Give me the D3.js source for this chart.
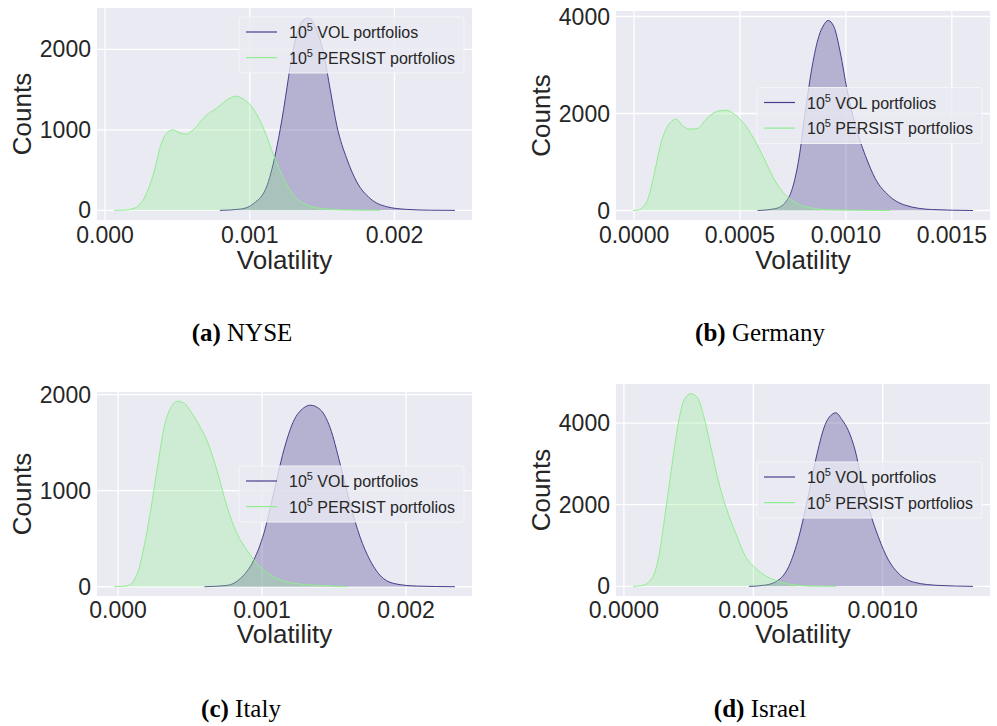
<!DOCTYPE html>
<html>
<head>
<meta charset="utf-8">
<script src="https://cdn.jsdelivr.net/npm/d3@7"></script>
<style>
  html, body { margin: 0; padding: 0; background: #ffffff; }
  svg { display: block; }
</style>
</head>
<body>
<svg id="fig" width="997" height="726"></svg>
<script>
// Kernel density estimates of portfolio volatility: [volatility, counts]
const nyseVol = [[0.000793,0],[0.000936,16],[0.001028,86],[0.00112,311],[0.001189,803],[0.001234,1254],[0.00128,1787],[0.001326,2197],[0.001384,2381],[0.001407,2393],[0.001453,2279],[0.00151,1951],[0.001556,1500],[0.001602,1049],[0.001671,639],[0.00174,352],[0.001832,148],[0.001947,45],[0.002085,12],[0.00225,2],[0.002418,0]];
const nysePersist = [[0.000062,0],[0.00014,4],[0.0002,25],[0.000269,148],[0.000338,475],[0.000384,803],[0.00043,967],[0.000471,1000],[0.00051,967],[0.000556,947],[0.000614,1008],[0.000683,1152],[0.000775,1275],[0.000867,1398],[0.0009,1418],[0.000959,1377],[0.001028,1254],[0.001097,1008],[0.001166,680],[0.001234,393],[0.001303,189],[0.001395,66],[0.001533,16],[0.001694,4],[0.0019,0]];

const germanyVol = [[0.000583,0],[0.000669,41],[0.000716,177],[0.000747,451],[0.000778,1065],[0.00081,2089],[0.000841,2976],[0.000872,3590],[0.000896,3829],[0.000916,3918],[0.000943,3795],[0.000974,3249],[0.001005,2498],[0.001045,1747],[0.001092,1133],[0.001139,655],[0.001201,314],[0.00128,109],[0.001405,20],[0.0016,0]];
const germanyPersist = [[-0.000005,0],[0.00002,10],[0.000034,41],[0.000066,246],[0.000097,792],[0.000128,1406],[0.00016,1747],[0.000199,1884],[0.00023,1747],[0.000261,1679],[0.0003,1693],[0.00034,1884],[0.000387,2034],[0.000434,2068],[0.000473,1986],[0.000527,1747],[0.000575,1406],[0.000622,997],[0.000669,587],[0.000716,314],[0.000763,164],[0.000825,61],[0.000935,14],[0.00121,0]];

const italyVol = [[0.0006,0],[0.000758,14],[0.00085,86],[0.000942,276],[0.001012,552],[0.00108,966],[0.00115,1414],[0.001219,1724],[0.001289,1862],[0.001335,1890],[0.001404,1845],[0.001473,1655],[0.001543,1276],[0.001612,862],[0.001681,517],[0.00175,276],[0.001843,86],[0.001935,28],[0.002074,7],[0.00234,0]];
const italyPersist = [[-0.000028,0],[0.000065,10],[0.000134,138],[0.00018,414],[0.000226,793],[0.000273,1241],[0.000319,1655],[0.000365,1862],[0.000411,1931],[0.000457,1914],[0.000503,1828],[0.000573,1655],[0.000619,1517],[0.000688,1207],[0.000758,828],[0.000827,552],[0.000896,379],[0.000988,207],[0.001104,86],[0.001266,28],[0.001497,7],[0.00159,0]];

const israelVol = [[0.000483,0],[0.000547,32],[0.000599,162],[0.000637,486],[0.000676,1215],[0.000714,2267],[0.000746,3239],[0.000778,3968],[0.000804,4211],[0.000819,4251],[0.000842,4089],[0.000868,3806],[0.000894,3320],[0.000919,2591],[0.000945,1943],[0.000983,1215],[0.001022,648],[0.00106,324],[0.001124,97],[0.001214,24],[0.001349,0]];
const israelPersist = [[0.000035,0],[0.000073,24],[0.000112,243],[0.000137,810],[0.000163,1943],[0.000188,3077],[0.000214,4130],[0.000233,4575],[0.000259,4721],[0.000285,4615],[0.00031,4130],[0.000336,3401],[0.000368,2510],[0.000394,1943],[0.000432,1296],[0.00047,729],[0.000509,445],[0.000547,259],[0.000586,146],[0.000637,57],[0.000727,8],[0.00082,0]];

// Tick values
const xTicksWide = [0, 0.001, 0.002];
const xTicksNarrow = [0, 0.0005, 0.001, 0.0015];
const xTicksIsrael = [0, 0.0005, 0.001];
const yTicksSmall = [0, 1000, 2000];
const yTicksLarge = [0, 2000, 4000];

// Panel captions
const captionLetters = ["(a)", "(b)", "(c)", "(d)"];
const captionNames = ["NYSE", "Germany", "Italy", "Israel"];

// Legend entries
const seriesNames = ["VOL", "PERSIST"];

const BG = "#EAEAF2";
const TEXT = "#262626";
const VOL_COLOR = "#483D8B";
const PERSIST_COLOR = "#90EE90";
const SANS = "'Liberation Sans', Arial, Helvetica, sans-serif";
const SERIF = "'Liberation Serif', 'Times New Roman', serif";

const panels = [
  { vol: nyseVol, persist: nysePersist, xTicks: xTicksWide, fmt: ".3f", yTicks: yTicksSmall,
    left: 97, top: 8, width: 375, height: 212, legend: "upper", capX: 242, capY: 341, labY: 269, tickY: 243 },
  { vol: germanyVol, persist: germanyPersist, xTicks: xTicksNarrow, fmt: ".4f", yTicks: yTicksLarge,
    left: 616, top: 11, width: 374, height: 209, legend: "center", capX: 760, capY: 341, labY: 269, tickY: 243 },
  { vol: italyVol, persist: italyPersist, xTicks: xTicksWide, fmt: ".3f", yTicks: yTicksSmall,
    left: 97, top: 392, width: 375, height: 204, legend: "center", capX: 241, capY: 717, labY: 643, tickY: 618 },
  { vol: israelVol, persist: israelPersist, xTicks: xTicksIsrael, fmt: ".4f", yTicks: yTicksLarge,
    left: 616, top: 384, width: 374, height: 212, legend: "center", capX: 760, capY: 717, labY: 643, tickY: 618 }
];

const svg = d3.select("#fig");

// matplotlib-style 5% padding around the data range
function padded(lo, hi) {
  const m = (hi - lo) * 0.05;
  return [lo - m, hi + m];
}

panels.forEach((p, i) => {
  const all = p.vol.concat(p.persist);
  const x = d3.scaleLinear()
    .domain(padded(d3.min(all, d => d[0]), d3.max(all, d => d[0])))
    .range([p.left, p.left + p.width]);
  const y = d3.scaleLinear()
    .domain(padded(0, d3.max(all, d => d[1])))
    .range([p.top + p.height, p.top]);

  const g = svg.append("g");

  // plot background
  g.append("rect")
    .attr("x", p.left).attr("y", p.top)
    .attr("width", p.width).attr("height", p.height)
    .attr("fill", BG);

  // grid
  const clipId = "clip" + i;
  svg.append("clipPath").attr("id", clipId)
    .append("rect").attr("x", p.left).attr("y", p.top)
    .attr("width", p.width).attr("height", p.height);

  const grid = g.append("g").attr("clip-path", `url(#${clipId})`);
  grid.selectAll(".gx").data(p.xTicks).join("line")
    .attr("x1", d => x(d)).attr("x2", d => x(d))
    .attr("y1", p.top).attr("y2", p.top + p.height)
    .attr("stroke", "#ffffff").attr("stroke-width", 1.3);
  grid.selectAll(".gy").data(p.yTicks).join("line")
    .attr("x1", p.left).attr("x2", p.left + p.width)
    .attr("y1", d => y(d)).attr("y2", d => y(d))
    .attr("stroke", "#ffffff").attr("stroke-width", 1.3);

  // density curves
  const area = d3.area().x(d => x(d[0])).y0(y(0)).y1(d => y(d[1])).curve(d3.curveMonotoneX);
  const line = d3.line().x(d => x(d[0])).y(d => y(d[1])).curve(d3.curveMonotoneX);

  const plot = g.append("g").attr("clip-path", `url(#${clipId})`);
  [[p.vol, VOL_COLOR, 0.33], [p.persist, PERSIST_COLOR, 0.3]].forEach(([data, color, alpha]) => {
    plot.append("path").datum(data).attr("d", area)
      .attr("fill", color).attr("fill-opacity", alpha).attr("stroke", "none");
    plot.append("path").datum(data).attr("d", line)
      .attr("fill", "none").attr("stroke", color).attr("stroke-width", 1);
  });

  // x tick labels
  const fx = d3.format(p.fmt);
  g.selectAll(".xt").data(p.xTicks).join("text")
    .attr("x", d => x(d)).attr("y", p.tickY)
    .attr("text-anchor", "middle")
    .attr("font-family", SANS).attr("font-size", 23).attr("fill", TEXT)
    .text(d => fx(d));

  // y tick labels
  g.selectAll(".yt").data(p.yTicks).join("text")
    .attr("x", p.left - 6).attr("y", d => y(d) + 8)
    .attr("text-anchor", "end")
    .attr("font-family", SANS).attr("font-size", 23).attr("fill", TEXT)
    .text(d => d3.format("d")(d));

  // axis labels
  g.append("text")
    .attr("x", p.left + p.width / 2).attr("y", p.labY)
    .attr("text-anchor", "middle")
    .attr("font-family", SANS).attr("font-size", 26).attr("fill", TEXT)
    .text("Volatility");
  const ylx = p.left - 66, yly = p.top + p.height / 2;
  g.append("text")
    .attr("transform", `translate(${ylx},${yly}) rotate(-90)`)
    .attr("text-anchor", "middle")
    .attr("font-family", SANS).attr("font-size", 26).attr("fill", TEXT)
    .text("Counts");

  // legend
  const lw = 225, lh = 56;
  const lx = p.left + p.width - 8 - lw;
  const ly = p.legend === "upper" ? p.top + 9 : p.top + p.height / 2 - lh / 2;
  const leg = g.append("g");
  leg.append("rect")
    .attr("x", lx).attr("y", ly).attr("width", lw).attr("height", lh)
    .attr("rx", 3).attr("ry", 3)
    .attr("fill", BG).attr("fill-opacity", 0.8)
    .attr("stroke", "#f6f6fa").attr("stroke-opacity", 0.9).attr("stroke-width", 1);
  seriesNames.forEach((name, k) => {
    const ry = ly + 15 + k * 25.6;
    leg.append("line")
      .attr("x1", lx + 7).attr("x2", lx + 38)
      .attr("y1", ry).attr("y2", ry)
      .attr("stroke", k === 0 ? VOL_COLOR : PERSIST_COLOR).attr("stroke-width", 1.2);
    const t = leg.append("text")
      .attr("x", lx + 50).attr("y", ry + 6)
      .attr("font-family", SANS).attr("font-size", 16).attr("fill", TEXT);
    t.append("tspan").text("10");
    t.append("tspan").attr("font-size", 11).attr("dy", -7).text("5");
    t.append("tspan").attr("dy", 7).text(" " + name + " portfolios");
  });

  // caption
  const cap = svg.append("text")
    .attr("x", p.capX).attr("y", p.capY)
    .attr("text-anchor", "middle")
    .attr("font-family", SERIF).attr("font-size", 25).attr("fill", "#000");
  cap.append("tspan").attr("font-weight", "bold").text(captionLetters[i]);
  cap.append("tspan").text(" " + captionNames[i]);
});
</script>
</body>
</html>
